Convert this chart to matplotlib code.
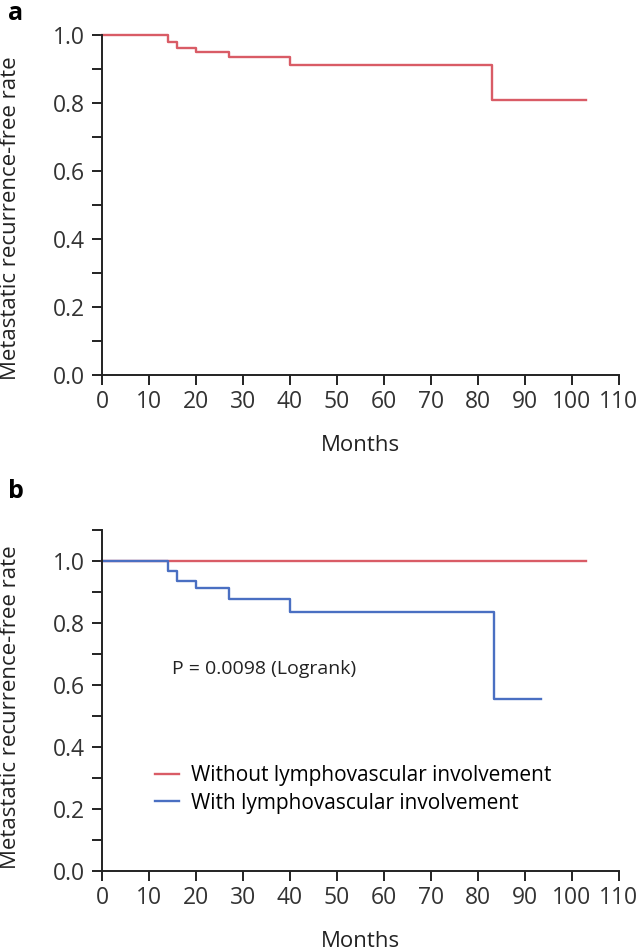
import matplotlib.pyplot as plt
import numpy as np

plt.rcParams['font.family'] = ['Open Sans', 'DejaVu Sans']

# panel a: all patients
months_a = [0, 14, 16, 20, 27, 40, 83, 103]
surv_a = [1.0, 0.980, 0.962, 0.951, 0.935, 0.912, 0.808, 0.808]

# panel b: by lymphovascular involvement
months_without = [0, 103]
surv_without = [1.0, 1.0]
months_with = [0, 14, 16, 20, 27, 40, 83.5, 93.5]
surv_with = [1.0, 0.968, 0.937, 0.912, 0.876, 0.834, 0.556, 0.556]

xticks = np.arange(0, 111, 10)
red = '#d95c66'
blue = '#4a6fc2'

fig = plt.figure(figsize=(6.43, 9.52), dpi=100)
ax_a = fig.add_axes([0.1586, 0.606, 0.804, 0.3572])
ax_b = fig.add_axes([0.1586, 0.0851, 0.804, 0.3582])


def style(ax, ymax, xlab_y, ylab_y):
    for s in ['top', 'right']:
        ax.spines[s].set_visible(False)
    for s in ['left', 'bottom']:
        ax.spines[s].set_linewidth(1.4)
        ax.spines[s].set_color('#222222')
    ax.set_xlim(0, 110)
    ax.set_ylim(0, ymax)
    ax.set_xticks(xticks)
    ax.set_yticks(np.arange(0, 1.01, 0.2))
    ax.set_yticks(np.arange(0, ymax + 0.001, 0.1), minor=True)
    ax.yaxis.set_major_formatter(plt.FormatStrFormatter('%.1f'))
    ax.tick_params(axis='both', which='both', direction='out', length=7,
                   width=1.4, colors='#222222', labelsize=16.5, labelcolor='#333333')
    ax.tick_params(axis='x', pad=4)
    ax.tick_params(axis='y', pad=5)
    ax.set_xlabel('Months', fontsize=16, color='#222222')
    ax.set_ylabel('Metastatic recurrence-free rate', fontsize=16, color='#222222')
    ax.xaxis.set_label_coords(0.5, xlab_y)
    ax.xaxis.label.set_va('center')
    ax.yaxis.set_label_coords(-0.176, ylab_y)
    ax.yaxis.label.set_va('center')


ax_a.step(months_a, surv_a, where='post', color=red, lw=1.7, clip_on=False)
style(ax_a, 1.0, -0.206, 0.46)

ax_b.step(months_without, surv_without, where='post', color=red, lw=1.7,
          clip_on=False, label='Without lymphovascular involvement')
ax_b.step(months_with, surv_with, where='post', color=blue, lw=1.7,
          clip_on=False, label='With lymphovascular involvement')
style(ax_b, 1.1, -0.206, 0.48)
ax_b.text(15, 0.652, 'P = 0.0098 (Logrank)', fontsize=14, color='#222222', va='center')
ax_b.legend(loc='center left', bbox_to_anchor=(0.1025, 0.239), frameon=False,
            fontsize=15, handlelength=1.15, handletextpad=0.6, labelspacing=0.3,
            borderaxespad=0, borderpad=0)

fig.text(0.012, 0.999, 'a', fontsize=18, fontweight='bold', va='top')
fig.text(0.012, 0.497, 'b', fontsize=18, fontweight='bold', va='top')

fig.savefig('out.png', dpi=100)
